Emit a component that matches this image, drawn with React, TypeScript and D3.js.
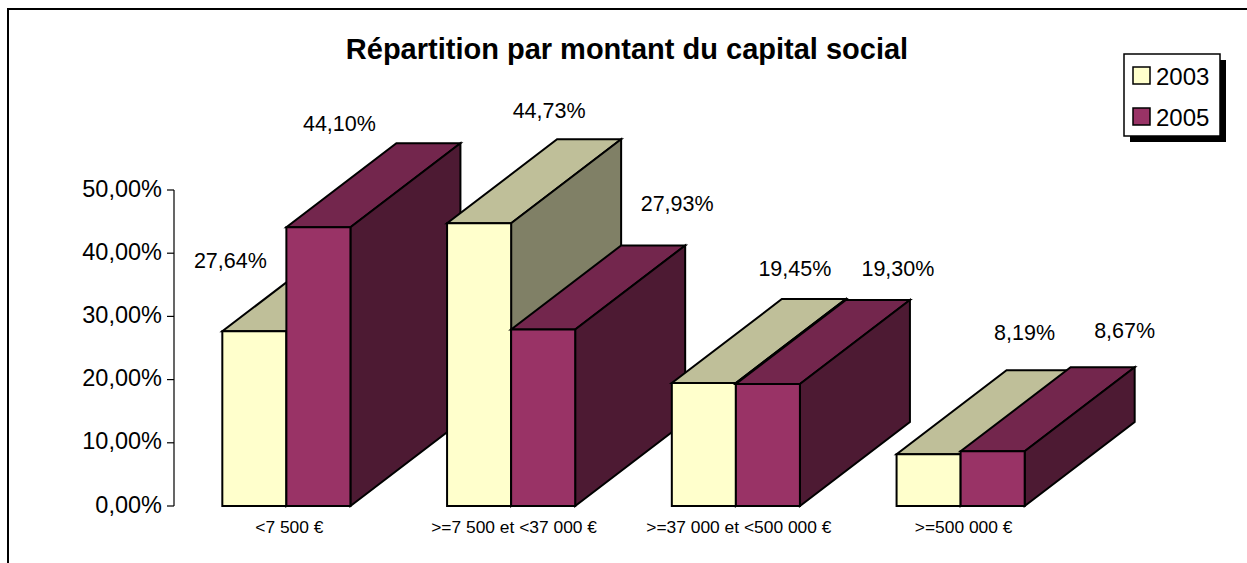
import React from "react";
import * as d3 from "d3";

// ---- data ----
const categories = ["<7 500 €", ">=7 500 et <37 000 €", ">=37 000 et <500 000 €", ">=500 000 €"];
const seriesNames = ["2003", "2005"];
const values2003 = [27.64, 44.73, 19.45, 8.19];
const values2005 = [44.1, 27.93, 19.3, 8.67];
const yTicks = [0, 10, 20, 30, 40, 50];

// ---- layout / style ----
const W = 1247;
const H = 563;
const FONT = "'Liberation Sans', Arial, sans-serif";
const plotLeft = 174;
const plotRight = 1073;
const plotBottom = 506;
const plotTop = 190;
const DX = 110; // 3D depth offset
const DY = -84;
const colors = [
  { front: "#FFFFCC", top: "#BFBF99", side: "#808066" },
  { front: "#993366", top: "#73264D", side: "#4D1A33" },
];
// manual label placement (offset from front-top-centre of each bar), as placed in original chart
const labelOffsets = [
  [[-24, -70], [21, -103]],
  [[70, -112], [134, -125]],
  [[91, -114], [130, -115]],
  [[96, -121], [132, -120]],
];

const fmt = (v: number) => v.toFixed(2).replace(".", ",") + "%";

export default function App() {
  const x = d3
    .scaleBand<string>()
    .domain(categories)
    .range([plotLeft, plotRight])
    .paddingInner(0.43)
    .paddingOuter(0.215);
  const y = d3.scaleLinear().domain([0, 50]).range([plotBottom, plotTop]);
  const series = [values2003, values2005];
  const barW = x.bandwidth() / 2;

  const bars: React.ReactNode[] = [];
  const labels: React.ReactNode[] = [];
  categories.forEach((c, ci) => {
    series.forEach((vals, si) => {
      const v = vals[ci];
      const x0 = (x(c) as number) + si * barW;
      const x1 = x0 + barW;
      const yt = y(v);
      const yb = y(0);
      const col = colors[si];
      const top = [[x0, yt], [x1, yt], [x1 + DX, yt + DY], [x0 + DX, yt + DY]];
      const side = [[x1, yt], [x1 + DX, yt + DY], [x1 + DX, yb + DY], [x1, yb]];
      const front = [[x0, yt], [x1, yt], [x1, yb], [x0, yb]];
      const pts = (p: number[][]) => p.map((q) => q.join(",")).join(" ");
      const common = { stroke: "#000", strokeWidth: 2, strokeLinejoin: "miter" as const };
      bars.push(
        <g key={`b${ci}-${si}`}>
          <polygon points={pts(top)} fill={col.top} {...common} />
          <polygon points={pts(side)} fill={col.side} {...common} />
          <polygon points={pts(front)} fill={col.front} {...common} />
        </g>
      );
      const [ox, oy] = labelOffsets[ci][si];
      labels.push(
        <text
          key={`l${ci}-${si}`}
          x={(x0 + x1) / 2 + ox}
          y={yt + oy}
          textAnchor="middle"
          dominantBaseline="central"
          fontSize={21.5}
          fontFamily={FONT}
          fill="#000"
        >
          {fmt(v)}
        </text>
      );
    });
  });

  const lx = 1124;
  const ly = 54;
  const lw = 96;
  const lh = 82;

  return (
    <svg
      width={W}
      height={H}
      style={{ position: "absolute", left: 0, top: 0, display: "block", background: "#fff" }}
    >
      <rect x={0} y={0} width={W} height={H} fill="#fff" />
      {/* outer chart border (extends beyond view) */}
      <rect x={8} y={9} width={W + 40} height={H + 40} fill="none" stroke="#000" strokeWidth={2} />

      {/* title */}
      <text
        x={627}
        y={58.5}
        textAnchor="middle"
        fontSize={29}
        fontWeight="bold"
        fontFamily={FONT}
        fill="#000"
      >
        Répartition par montant du capital social
      </text>

      {/* y axis */}
      <line x1={plotLeft} x2={plotLeft} y1={y(0)} y2={y(50)} stroke="#000" strokeWidth={1.2} />
      {yTicks.map((t) => (
        <g key={t}>
          <line x1={plotLeft - 7} x2={plotLeft} y1={y(t)} y2={y(t)} stroke="#000" strokeWidth={1.2} />
          <text
            x={162}
            y={y(t) - 1.5}
            textAnchor="end"
            dominantBaseline="central"
            fontSize={23.5}
            fontFamily={FONT}
            fill="#000"
          >
            {fmt(t)}
          </text>
        </g>
      ))}

      {bars}
      {labels}

      {/* category labels */}
      {categories.map((c) => (
        <text
          key={c}
          x={(x(c) as number) + x.bandwidth() / 2 + 3}
          y={527}
          textAnchor="middle"
          dominantBaseline="central"
          fontSize={17.4}
          fontFamily={FONT}
          fill="#000"
        >
          {c}
        </text>
      ))}

      {/* legend */}
      <rect x={lx + 6} y={ly + 6} width={lw} height={lh} fill="#000" />
      <rect x={lx} y={ly} width={lw} height={lh} fill="#fff" stroke="#000" strokeWidth={1.5} />
      {seriesNames.map((s, i) => (
        <g key={s}>
          <rect
            x={lx + 9}
            y={ly + 13 + i * 41}
            width={17}
            height={17}
            fill={colors[i].front}
            stroke="#000"
            strokeWidth={1.5}
          />
          <text
            x={lx + 32}
            y={ly + 22 + i * 41}
            dominantBaseline="central"
            fontSize={24}
            fontFamily={FONT}
            fill="#000"
          >
            {s}
          </text>
        </g>
      ))}
    </svg>
  );
}
